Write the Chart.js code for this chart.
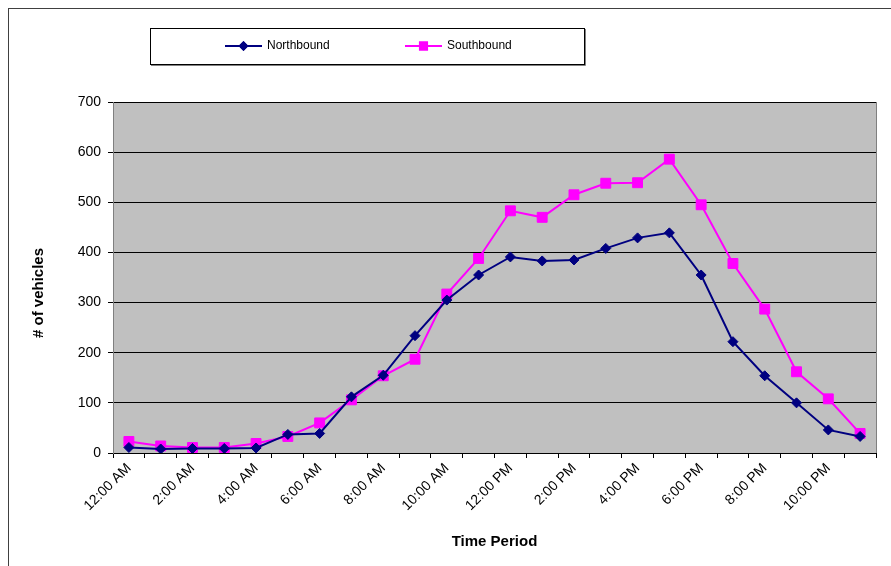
<!DOCTYPE html>
<html>
<head>
<meta charset="utf-8">
<style>
  html, body { margin: 0; padding: 0; background: #fff; }
  #wrap { width: 891px; height: 566px; position: relative; }
</style>
<script src="https://cdn.jsdelivr.net/npm/chart.js@4/dist/chart.umd.min.js"></script>
</head>
<body>
<div id="wrap"><canvas id="traffic-chart" width="891" height="566"></canvas></div>
<script>
// hourly periods (24)
const periods = ['12:00 AM', '1:00 AM', '2:00 AM', '3:00 AM', '4:00 AM', '5:00 AM', '6:00 AM', '7:00 AM',
    '8:00 AM', '9:00 AM', '10:00 AM', '11:00 AM', '12:00 PM', '1:00 PM', '2:00 PM', '3:00 PM',
    '4:00 PM', '5:00 PM', '6:00 PM', '7:00 PM', '8:00 PM', '9:00 PM', '10:00 PM', '11:00 PM'];

const northbound = [11, 8, 9, 9, 10, 37, 39, 112, 155, 234, 305, 355,
    391, 383, 385, 408, 429, 439, 355, 222, 154, 100, 46, 33];

const southbound = [23, 14, 11, 11, 19, 33, 60, 106, 154, 187, 317, 388,
    483, 470, 515, 538, 539, 586, 495, 378, 287, 162, 108, 39];

const yTicks = [0, 100, 200, 300, 400, 500, 600, 700];

const FONT = 'Arial, "Liberation Sans", sans-serif';

// gray plot background, outer frame, y title and boxed legend
const chartDecor = {
    id: 'chartDecor',
    beforeDraw(chart) {
        const ctx = chart.ctx;
        const a = chart.chartArea;
        ctx.save();
        ctx.fillStyle = '#fff';
        ctx.fillRect(0, 0, chart.width, chart.height);
        ctx.strokeStyle = '#404040';
        ctx.lineWidth = 1;
        ctx.strokeRect(8.5, 8.5, chart.width + 20, chart.height + 20);
        ctx.fillStyle = '#C0C0C0';
        ctx.fillRect(a.left, a.top, a.right - a.left, a.bottom - a.top);

        // y axis title (sits a bit below the plot middle, like the original)
        ctx.translate(39, 293);
        ctx.rotate(-Math.PI / 2);
        ctx.fillStyle = '#000';
        ctx.font = 'bold 15px ' + FONT;
        ctx.textAlign = 'center';
        ctx.textBaseline = 'middle';
        ctx.fillText('# of vehicles', 0, 0);
        ctx.restore();
    },
    afterDatasetsDraw(chart) {
        const ctx = chart.ctx;
        const a = chart.chartArea;
        ctx.save();
        // plot border (right side gray)
        ctx.strokeStyle = '#808080';
        ctx.lineWidth = 1;
        ctx.beginPath();
        ctx.moveTo(a.right + 0.5, a.top);
        ctx.lineTo(a.right + 0.5, a.bottom);
        ctx.stroke();

        // legend box
        ctx.strokeStyle = '#000';
        ctx.strokeRect(150.5, 28.5, 434, 36);
        ctx.strokeStyle = '#808080';
        ctx.beginPath();
        ctx.moveTo(151, 65.5); ctx.lineTo(585.5, 65.5); ctx.lineTo(585.5, 29);
        ctx.stroke();

        const items = [{ x: 225 }, { x: 405 }];
        chart.data.datasets.forEach((ds, i) => {
            const x0 = items[i].x, y = 46;
            ctx.strokeStyle = ds.borderColor;
            ctx.lineWidth = 2;
            ctx.beginPath();
            ctx.moveTo(x0, y);
            ctx.lineTo(x0 + 37, y);
            ctx.stroke();
            Chart.helpers.drawPoint(ctx, {
                pointStyle: ds.pointStyle,
                radius: ds.pointStyle === 'rect' ? 5 : 3.5,
                borderWidth: 1
            }, x0 + 18.5, y);
            ctx.fillStyle = ds.pointBackgroundColor;
            ctx.strokeStyle = ds.pointBorderColor;
            ctx.fill();
            ctx.stroke();
            ctx.fillStyle = '#000';
            ctx.font = '12px ' + FONT;
            ctx.textAlign = 'left';
            ctx.textBaseline = 'middle';
            ctx.fillText(ds.label, x0 + 42, y);
        });
        ctx.restore();
    }
};

const ctx = document.getElementById('traffic-chart').getContext('2d');
new Chart(ctx, {
    type: 'line',
    data: {
        labels: periods,
        datasets: [{
            label: 'Northbound',
            data: northbound,
            borderColor: '#000080',
            backgroundColor: '#000080',
            pointBackgroundColor: '#000080',
            pointBorderColor: '#000080',
            pointStyle: 'rectRot',
            pointRadius: 5,
            pointBorderWidth: 1,
            borderWidth: 2,
            tension: 0
        }, {
            label: 'Southbound',
            data: southbound,
            borderColor: '#FF00FF',
            backgroundColor: '#FF00FF',
            pointBackgroundColor: '#FF00FF',
            pointBorderColor: '#FF00FF',
            pointStyle: 'rect',
            pointRadius: 7,
            pointBorderWidth: 1,
            borderWidth: 2,
            tension: 0
        }]
    },
    options: {
        responsive: false,
        animation: false,
        layout: { padding: { left: 10, right: 15, top: 102, bottom: 0 } },
        plugins: {
            legend: { display: false },
            tooltip: { enabled: false }
        },
        scales: {
            x: {
                offset: true,
                afterFit(scale) { scale.height = 113; },
                grid: {
                    offset: true,
                    drawOnChartArea: false,
                    drawTicks: true,
                    tickLength: 5,
                    color: '#000'
                },
                border: { color: '#000', width: 1 },
                ticks: {
                    autoSkip: false,
                    minRotation: 45,
                    maxRotation: 45,
                    padding: 2,
                    color: '#000',
                    font: { family: FONT, size: 14 },
                    callback: function (val, i) { return i % 2 === 0 ? periods[i] : ''; }
                },
                title: {
                    display: true,
                    text: 'Time Period',
                    color: '#000',
                    font: { family: FONT, size: 15, weight: 'bold' },
                    padding: { top: 4, bottom: 15 }
                }
            },
            y: {
                min: 0,
                max: 700,
                afterFit(scale) { scale.width = 103; },
                afterBuildTicks(scale) { scale.ticks = yTicks.map(v => ({ value: v })); },
                grid: {
                    color: '#000',
                    lineWidth: 1,
                    tickLength: 5
                },
                border: { color: '#808080', width: 1 },
                ticks: {
                    padding: 7,
                    color: '#000',
                    font: { family: FONT, size: 14 }
                }
            }
        }
    },
    plugins: [chartDecor]
});
</script>
</body>
</html>
